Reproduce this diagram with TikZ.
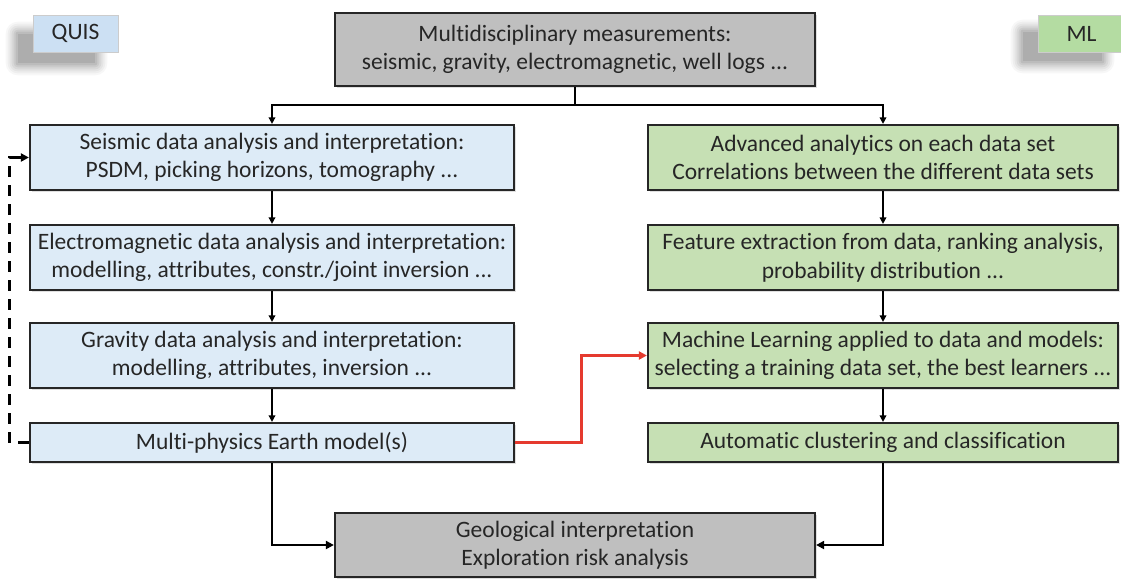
\documentclass[tikz,border=0pt]{standalone}
\usepackage{fontspec}
\setmainfont{Carlito}[Ligatures=NoCommon]
\usetikzlibrary{arrows.meta,shadows,calc}
\pgfdeclarelayer{bg}
\pgfsetlayers{bg,main}
\definecolor{qblue}{HTML}{DDEBF7}
\definecolor{qgreen}{HTML}{C6E0B4}
\definecolor{qgray}{HTML}{BFBFBF}
\definecolor{tagblue}{HTML}{CCE0F3}
\definecolor{taggreen}{HTML}{B4DCA2}
\definecolor{ink}{HTML}{262626}
\definecolor{redarrow}{HTML}{E53A2E}
\newcommand{\blurshadow}[3]{%
  \begin{pgfonlayer}{bg}
  \foreach \s/\o in {12/0.03,10/0.035,8/0.04,6/0.05,4/0.06,2/0.07,0/0.08}{%
    \fill[black,opacity=\o,rounded corners=\s]
      ($(#1.south west)+(#2-\s+4,#3+\s-4)$) rectangle ($(#1.north east)+(#2+\s-4,#3-\s+4)$);}
  \end{pgfonlayer}}
\begin{document}
\begin{tikzpicture}[x=1pt,y=-1pt,
  txt/.style={font=\fontsize{23.5}{28.5}\selectfont, text=ink, align=center},
  box/.style={txt, draw=black!85, line width=2.2pt, inner sep=0pt,
    drop shadow={shadow xshift=1.5pt, shadow yshift=-1.5pt, opacity=.25}},
  lbox/.style={box, fill=qblue, minimum width=484, minimum height=65},
  rbox/.style={box, fill=qgreen, minimum width=470, minimum height=65},
  gbox/.style={box, fill=qgray, minimum width=480},
  tagbox/.style={txt, inner sep=0pt, minimum height=37, draw=white!80!black, line width=0.6pt},
  conn/.style={draw=black, line width=1.8pt, -{Triangle[length=6.5pt,width=6.5pt]}},
  tconn/.style={draw=black, line width=2.8pt, -{Triangle[length=8pt,width=8pt]}},
  rconn/.style={draw=redarrow, line width=2.8pt, -{Triangle[length=8pt,width=8pt]}},
  dconn/.style={draw=black, line width=3pt, dash pattern=on 11pt off 8pt, -{Triangle[length=8pt,width=8pt]}}
]
\begin{pgfonlayer}{bg}
\fill[white] (0,0) rectangle (1121,579);
\end{pgfonlayer}
\useasboundingbox (0,0) rectangle (1121,579);

% tags
\node[tagbox, fill=tagblue, minimum width=85] (quis) at (75.5,33.5) {QUIS};
\node[tagbox, fill=taggreen, minimum width=87] (mltag) at (1081.5,33.5) {ML};
\blurshadow{quis}{-19}{15}
\blurshadow{mltag}{-19}{13}

% top box
\node[gbox, minimum height=73] (meas) at (575,49.5) {Multidisciplinary measurements:\\ seismic, gravity, electromagnetic, well logs ...};

% left column
\node[lbox] (seis) at (272,157.5) {Seismic data analysis and interpretation:\\ PSDM, picking horizons, tomography ...};
\node[lbox] (em) at (272,257.5) {Electromagnetic data analysis and interpretation:\\ modelling, attributes, constr./joint inversion ...};
\node[lbox] (grav) at (272,355.5) {Gravity data analysis and interpretation:\\ modelling, attributes, inversion ...};
\node[lbox, minimum height=39] (mp) at (272,442.5) {Multi-physics Earth model(s)};

% right column
\node[rbox] (adv) at (883,157.5) {Advanced analytics on each data set\\ Correlations between the different data sets};
\node[rbox] (feat) at (883,257.5) {Feature extraction from data, ranking analysis,\\ probability distribution ...};
\node[rbox] (mlb) at (883,355.5) {Machine Learning applied to data and models:\\ selecting a training data set, the best learners ...};
\node[rbox, minimum height=39] (auto) at (883,442.5) {Automatic clustering and classification};

% bottom box
\node[gbox, minimum height=64] (geo) at (575,545) {Geological interpretation\\ Exploration risk analysis};

% connectors
\draw[conn, line width=2.3pt] (meas.south) -- ++(0,18) coordinate (j) -| (seis.north);
\draw[conn, line width=2.3pt] (j) -| (adv.north);
\draw[conn] (seis.south) -- (em.north);
\draw[conn] (em.south) -- (grav.north);
\draw[conn] (grav.south) -- (mp.north);
\draw[conn] (adv.south) -- (feat.north);
\draw[conn] (feat.south) -- (mlb.north);
\draw[conn] (mlb.south) -- (auto.north);
\draw[tconn] (mp.south) |- (geo.west);
\draw[tconn] (auto.south) |- (geo.east);
\draw[rconn] (mp.east) -- ++(66,0) |- (mlb.west);
\draw[dconn] (mp.west) -- ++(-19,0) |- (seis.west);
\end{tikzpicture}
\end{document}
